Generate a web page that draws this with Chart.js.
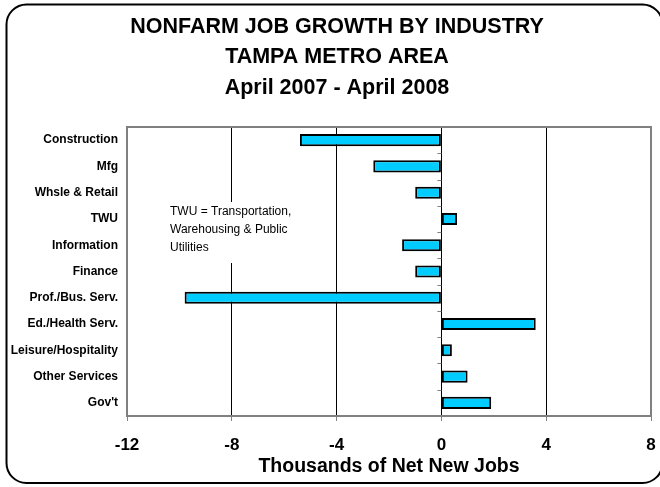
<!DOCTYPE html>
<html>
<head>
<meta charset="utf-8">
<script src="https://cdn.jsdelivr.net/npm/chart.js@4/dist/chart.umd.min.js"></script>
<style>
  html, body { margin: 0; padding: 0; background: #fff; }
  #wrap { width: 660px; height: 487px; }
</style>
</head>
<body>
<div id="wrap"><canvas id="jobsChart" width="660" height="487"></canvas></div>
<script>
// Chart data
const industries = ['Construction', 'Mfg', 'Whsle & Retail', 'TWU', 'Information', 'Finance',
  'Prof./Bus. Serv.', 'Ed./Health Serv.', 'Leisure/Hospitality', 'Other Services', "Gov't"];
const jobGrowth = [-5.4, -2.6, -1.0, 0.6, -1.5, -1.0, -9.8, 3.6, 0.4, 1.0, 1.9];
const xTicks = [-12, -8, -4, 0, 4, 8];
const titleLines = ['NONFARM JOB GROWTH BY INDUSTRY', 'TAMPA METRO AREA', 'April 2007 - April 2008'];
const noteLines = ['TWU = Transportation,', 'Warehousing & Public', 'Utilities'];

const FONT = '"Liberation Sans", Arial, Helvetica, sans-serif';

// Background, rounded frame, title, plot border, note and zero-axis ticks
const decorations = {
  id: 'decorations',
  beforeDraw(chart) {
    const ctx = chart.ctx;
    ctx.save();
    ctx.fillStyle = '#fff';
    ctx.fillRect(0, 0, chart.width, chart.height);
    // frame runs off the right edge, as in the original
    ctx.beginPath();
    ctx.roundRect(6.5, 4.5, 656, 478.5, 20);
    ctx.lineWidth = 2;
    ctx.strokeStyle = '#000';
    ctx.stroke();
    // title
    ctx.fillStyle = '#000';
    ctx.font = 'bold 21.5px ' + FONT;
    ctx.textAlign = 'center';
    ctx.textBaseline = 'middle';
    titleLines.forEach((t, i) => ctx.fillText(t, 337, 27 + i * 30.5));
    ctx.restore();
  },
  afterDraw(chart) {
    const ctx = chart.ctx;
    const a = chart.chartArea;
    const x = chart.scales.x, y = chart.scales.y;
    ctx.save();
    // plot border
    ctx.strokeStyle = '#808080';
    ctx.lineWidth = 2;
    ctx.strokeRect(a.left, a.top, a.right - a.left, a.bottom - a.top);
    // small ticks on the category axis at zero
    const x0 = x.getPixelForValue(0);
    ctx.lineWidth = 1;
    for (let i = 0; i <= industries.length; i++) {
      const py = Math.round(y.getPixelForValue(i - 0.5)) + 0.5;
      ctx.beginPath();
      ctx.moveTo(x0 - 4, py);
      ctx.lineTo(x0, py);
      ctx.stroke();
    }
    // note box
    ctx.fillStyle = '#fff';
    ctx.fillRect(166, 202, 134, 61);
    ctx.fillStyle = '#000';
    ctx.font = '12px ' + FONT;
    ctx.textBaseline = 'middle';
    noteLines.forEach((t, i) => ctx.fillText(t, 170, 212 + i * 18));
    ctx.restore();
  }
};

const ctx = document.getElementById('jobsChart').getContext('2d');
new Chart(ctx, {
  type: 'bar',
  data: {
    labels: industries,
    datasets: [{
      data: jobGrowth,
      backgroundColor: '#00CCFF',
      borderColor: '#000',
      borderWidth: 2,
      borderSkipped: false,
      barPercentage: 0.46,
      categoryPercentage: 1
    }]
  },
  options: {
    indexAxis: 'y',
    responsive: false,
    animation: false,
    layout: { padding: { top: 127, left: 0, right: 9, bottom: 9 } },
    plugins: {
      legend: { display: false },
      tooltip: { enabled: false },
      title: { display: false }
    },
    scales: {
      x: {
        min: -12,
        max: 8,
        afterBuildTicks(scale) { scale.ticks = xTicks.map(v => ({ value: v })); },
        afterFit(scale) { scale.height = 62; },
        ticks: {
          color: '#000',
          padding: 0,
          font: { family: FONT, size: 17, weight: 'bold', lineHeight: 2.88 }
        },
        grid: {
          color(c) {
            const v = c.tick && c.tick.value;
            return (v === -12 || v === 8) ? '#808080' : '#000';
          },
          tickColor: '#808080',
          tickLength: 5,
          lineWidth: 1
        },
        border: { display: true, color: '#808080', width: 2 },
        title: {
          display: true,
          text: 'Thousands of Net New Jobs',
          color: '#000',
          padding: 0,
          font: { family: FONT, size: 19.5, weight: 'bold' }
        }
      },
      y: {
        afterFit(scale) { scale.width = 127; },
        ticks: {
          color: '#000',
          padding: 9,
          autoSkip: false,
          font: { family: FONT, size: 12, weight: 'bold' }
        },
        grid: { display: false, drawTicks: false },
        border: { display: false }
      }
    }
  },
  plugins: [decorations]
});
</script>
</body>
</html>
